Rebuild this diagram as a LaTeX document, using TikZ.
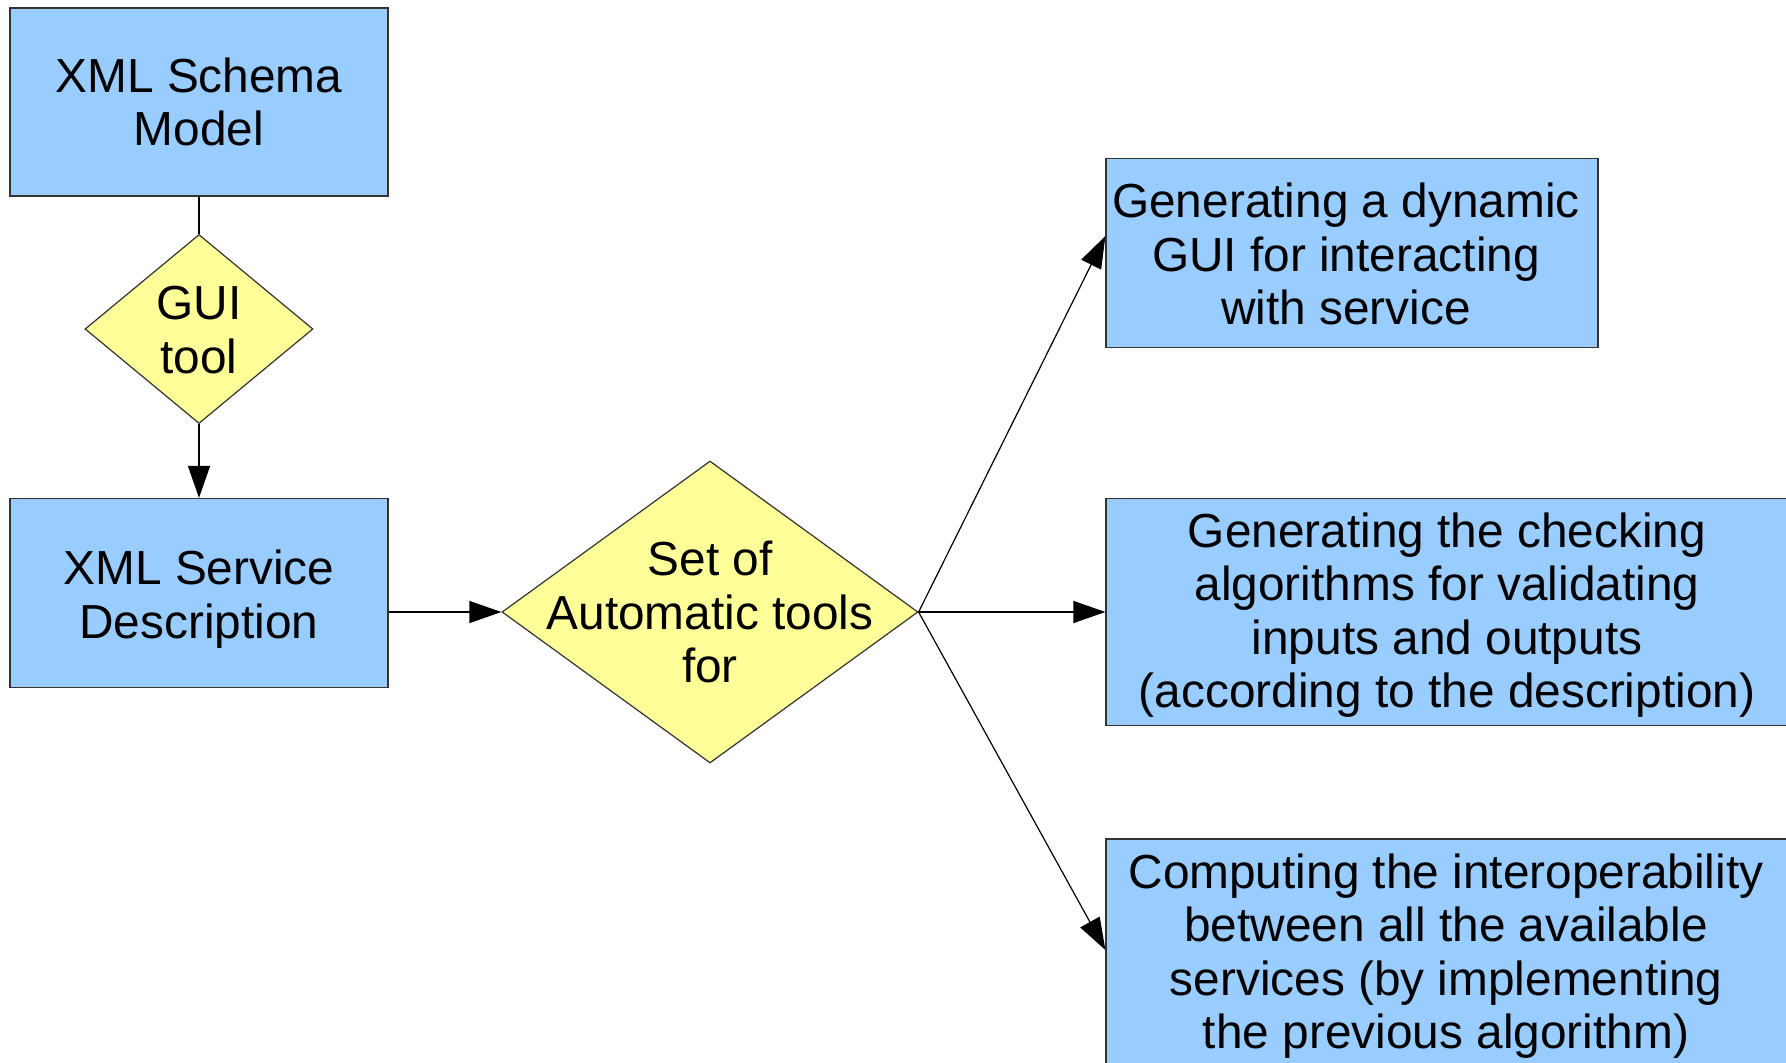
\documentclass[tikz,border=0pt]{standalone}
\usepackage{fontspec}
\setmainfont{Liberation Sans}
\usetikzlibrary{shapes.geometric,arrows.meta,calc}
\definecolor{boxblue}{HTML}{99CCFF}
\definecolor{diayellow}{HTML}{FFFF99}
\definecolor{edgegray}{HTML}{333333}
\tikzset{
  bluebox/.style={draw=edgegray, line width=1.2pt, fill=boxblue, rectangle, inner sep=0pt},
  yeldia/.style={draw=edgegray, line width=1.2pt, fill=diayellow, diamond, inner sep=0pt},
  txt/.style={align=center, inner sep=0pt, font=\fontsize{47.8pt}{53.5pt}\selectfont},
  conn/.style={line width=1.2pt, draw=black},
  arr/.style={conn, -{Triangle[length=32pt,width=22pt]}},
}
\begin{document}
\begin{tikzpicture}[x=1pt,y=-1pt]
\useasboundingbox[fill=white] (0,0) rectangle (1786,1063);
\begin{scope}
\clip (0,0) rectangle (1786,1063);
% boxes
\node[bluebox, minimum width=378pt, minimum height=188pt] (schema) at (199,102) {};
\node[txt] (schematxt) at (199,102) {XML Schema\\Model};
\node[yeldia, minimum width=228pt, minimum height=189pt] (gui) at (199,329) {};
\node[txt] (guitxt) at (199,330) {GUI\\tool};
\node[bluebox, minimum width=378pt, minimum height=189pt] (serv) at (199,593) {};
\node[txt] (servtxt) at (199,599) {XML Service\\Description};
\node[yeldia, minimum width=416pt, minimum height=302pt] (set) at (710,612) {};
\node[txt] (settxt) at (710,612) {Set of\\Automatic tools\\for};
\node[bluebox, minimum width=492pt, minimum height=189pt] (dyn) at (1352,253) {};
\node[txt] (dyntxt) at (1346,254) {Generating a dynamic\\GUI for interacting\\with service};
\node[bluebox, minimum width=682pt, minimum height=227pt] (chk) at (1447,612) {};
\node[txt] (chktxt) at (1447,615) {Generating the checking\\algorithms for validating\\inputs and outputs\\(according to the description)};
\node[bluebox, minimum width=682pt, minimum height=226pt] (comp) at (1447,952) {};
\node[txt] (comptxt) at (1446,956) {Computing the interoperability\\between all the available\\services (by implementing\\the previous algorithm)};
% connectors
\draw[conn] (schema.south) -- (gui.north);
\draw[arr] (gui.south) -- (serv.north);
\draw[arr] (serv.east |- set.west) -- (set.west);
\draw[arr] (set.east) -- ([yshift=17pt]dyn.west);
\draw[arr] (set.east) -- (chk.west);
\draw[arr] (set.east) -- ([yshift=2pt]comp.west);
\end{scope}
\end{tikzpicture}
\end{document}
